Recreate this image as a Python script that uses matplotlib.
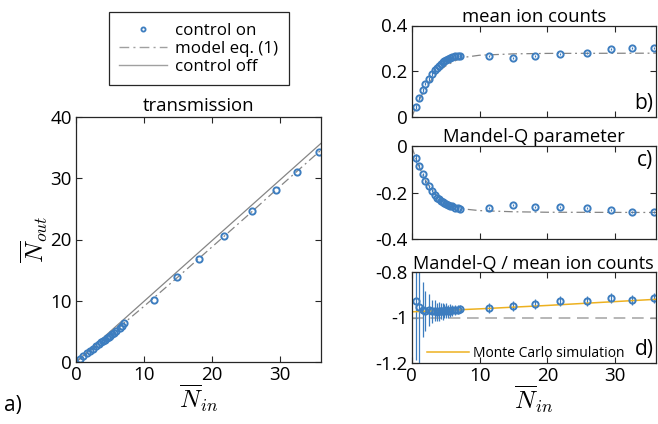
import numpy as np
import matplotlib
matplotlib.use("Agg")
import matplotlib.pyplot as plt
from matplotlib.lines import Line2D

plt.rcParams['font.family'] = ['Open Sans', 'DejaVu Sans']
plt.rcParams['mathtext.fontset'] = 'cm'
plt.rcParams['axes.unicode_minus'] = False

# input photon numbers (same for all panels)
n_in = [0.63, 1.08, 1.6, 2.0, 2.5, 3.0, 3.44, 3.73, 4.0, 4.3, 4.57, 4.8, 5.06, 5.3,
        5.6, 5.94, 6.4, 6.8, 7.1, 11.4, 14.9, 18.1, 21.8, 25.9, 29.4, 32.5, 35.7]

# a) transmission
n_out = [0.55, 0.95, 1.4, 1.75, 2.15, 2.6, 2.95, 3.2, 3.4, 3.65, 3.9, 4.1, 4.3, 4.5,
         4.8, 5.1, 5.5, 5.85, 6.3, 10.2, 13.9, 16.8, 20.5, 24.7, 28.1, 31.1, 34.3]
model_a_x = [0, 2, 4, 7, 10, 15, 20, 25, 30, 36]
model_a_y = [0, 1.75, 3.55, 6.3, 9.1, 13.9, 18.8, 23.7, 28.7, 34.6]
off_x = [0, 36]
off_y = [0, 35.7]

# b) mean ion counts
ions = [0.045, 0.082, 0.117, 0.146, 0.167, 0.188, 0.205, 0.216, 0.224, 0.231, 0.239,
        0.245, 0.249, 0.253, 0.258, 0.261, 0.265, 0.268, 0.267,
        0.267, 0.259, 0.267, 0.275, 0.281, 0.296, 0.303, 0.303]
ions_err = [0.008] * 19 + [0.004] * 8
model_x = [0, 0.5, 1, 1.5, 2, 2.5, 3, 3.5, 4, 4.5, 5, 6, 7, 8, 10, 15, 20, 36]
model_b = [0, 0.035, 0.068, 0.097, 0.123, 0.146, 0.166, 0.184, 0.199, 0.212, 0.223,
           0.24, 0.254, 0.262, 0.27, 0.276, 0.278, 0.279]

# c) Mandel-Q
mandel = [-0.053, -0.086, -0.122, -0.152, -0.172, -0.192, -0.208, -0.221, -0.228, -0.234,
          -0.24, -0.244, -0.248, -0.252, -0.257, -0.259, -0.264, -0.265, -0.27,
          -0.267, -0.253, -0.26, -0.26, -0.267, -0.274, -0.282, -0.282]
mandel_err = [0.018, 0.01] + [0.006] * 17 + [0.004] * 8
model_c = [0, -0.045, -0.082, -0.115, -0.145, -0.168, -0.188, -0.205, -0.22, -0.232,
           -0.242, -0.256, -0.265, -0.271, -0.277, -0.282, -0.284, -0.285]

# d) Mandel-Q / mean ion counts
ratio = [-0.928, -0.955, -0.965, -0.97, -0.968, -0.972, -0.97, -0.975, -0.972, -0.97,
         -0.973, -0.97, -0.968, -0.972, -0.97, -0.968, -0.966, -0.965, -0.963,
         -0.96, -0.95, -0.94, -0.927, -0.927, -0.913, -0.923, -0.913]
ratio_err = [0.26, 0.3, 0.12, 0.088, 0.07, 0.05, 0.045, 0.04, 0.042, 0.035, 0.036, 0.03,
             0.032, 0.028, 0.028, 0.025, 0.022, 0.02, 0.018,
             0.022, 0.022, 0.022, 0.022, 0.022, 0.022, 0.022, 0.022]
mc_x = [0, 10, 20, 30, 36]
mc_y = [-0.975, -0.962, -0.947, -0.93, -0.92]
ref_x = [0, 36]
ref_y = [-1, -1]

blue = '#3D7DBF'
gray = '#858585'
orange = '#EDB120'
dashdot = (0, (7, 3, 1.5, 3))

W, H = 658, 424
fig = plt.figure(figsize=(W / 100, H / 100), dpi=100)

def box(l, t, r, b):
    return [l / W, 1 - b / H, (r - l) / W, (b - t) / H]

def style(ax):
    ax.tick_params(direction='in', top=True, right=True, length=4, width=0.8,
                   labelsize=13.5, color='#262626', pad=3)
    for s in ax.spines.values():
        s.set_linewidth(0.9)
        s.set_color('#262626')

mk = dict(marker='o', ms=4.5, mfc='none', mec=blue, mew=1.4, ls='none', color=blue)
tfs = 13.3

# ---- a)
ax = fig.add_axes(box(76, 117, 321, 362))
ax.plot(off_x, off_y, color=gray, lw=0.9)
ax.plot(model_a_x, model_a_y, color=gray, lw=0.9, ls=dashdot)
ax.plot(n_in, n_out, **mk)
ax.set_xlim(0, 36)
ax.set_ylim(0, 40)
ax.set_xticks([0, 10, 20, 30])
ax.set_yticks([0, 10, 20, 30, 40])
ax.set_title('transmission', fontsize=tfs, pad=4)
ax.set_xlabel(r'$\overline{N}_{in}$', fontsize=18, labelpad=-1)
ax.set_ylabel(r'$\overline{N}_{out}$', fontsize=18, labelpad=0)
style(ax)
fig.text(4 / W, 1 - 406 / H, 'a)', fontsize=15, va='center')

# ---- b)
axb = fig.add_axes(box(411.7, 25.5, 656, 117))
axb.plot(model_x, model_b, color=gray, lw=0.9, ls=dashdot)
axb.errorbar(n_in, ions, yerr=ions_err, capsize=0, elinewidth=0.9, **mk)
axb.set_xlim(0, 36)
axb.set_ylim(0, 0.4)
axb.set_xticks([0, 10, 20, 30])
axb.set_xticklabels([])
axb.set_yticks([0, 0.2, 0.4])
axb.set_yticklabels(['0', '0.2', '0.4'])
axb.set_title('mean ion counts', fontsize=tfs, pad=2)
axb.text(0.99, 0.03, 'b)', transform=axb.transAxes, fontsize=15, ha='right', va='bottom')
style(axb)

# ---- c)
axc = fig.add_axes(box(411.7, 146, 656, 239.3))
axc.plot(model_x, model_c, color=gray, lw=0.9, ls=dashdot)
axc.errorbar(n_in, mandel, yerr=mandel_err, capsize=0, elinewidth=0.9, **mk)
axc.set_xlim(0, 36)
axc.set_ylim(-0.4, 0)
axc.set_xticks([0, 10, 20, 30])
axc.set_xticklabels([])
axc.set_yticks([-0.4, -0.2, 0])
axc.set_yticklabels(['-0.4', '-0.2', '0'])
axc.set_title('Mandel-Q parameter', fontsize=tfs, pad=2)
axc.text(0.99, 0.96, 'c)', transform=axc.transAxes, fontsize=15, ha='right', va='top')
style(axc)

# ---- d)
axd = fig.add_axes(box(411.7, 272, 656, 363))
axd.plot(ref_x, ref_y, color='#aaaaaa', lw=1.2, dashes=(7, 4))
axd.errorbar(n_in, ratio, yerr=ratio_err, capsize=0, elinewidth=0.9, **mk)
mc_line, = axd.plot(mc_x, mc_y, color=orange, lw=1.1)
axd.set_xlim(0, 36)
axd.set_ylim(-1.2, -0.8)
axd.set_xticks([0, 10, 20, 30])
axd.set_yticks([-1.2, -1, -0.8])
axd.set_yticklabels(['-1.2', '-1', '-0.8'])
axd.set_title('Mandel-Q / mean ion counts', fontsize=13.1, pad=2)
axd.set_xlabel(r'$\overline{N}_{in}$', fontsize=18, labelpad=-1)
axd.legend([mc_line], ['Monte Carlo simulation'], loc='lower left', frameon=False,
           fontsize=10, handlelength=3.0, borderaxespad=0.0, handletextpad=0.3,
           bbox_to_anchor=(0.04, -0.04))
axd.text(0.99, 0.03, 'd)', transform=axd.transAxes, fontsize=15, ha='right', va='bottom')
style(axd)

# ---- shared legend
handles = [Line2D([], [], marker='o', ms=3, mfc='none', mec=blue, mew=1.3, ls='none'),
           Line2D([], [], color='#a0a0a0', lw=1.0, ls=dashdot),
           Line2D([], [], color='#a0a0a0', lw=1.0)]
leg = fig.legend(handles, ['control on', 'model eq. (1)', 'control off'],
                 loc='upper center', bbox_to_anchor=(199 / W, 1 - 12.5 / H),
                 fontsize=12.2, fancybox=False, edgecolor='#262626', framealpha=1,
                 handlelength=2.8, labelspacing=0.12, borderpad=0.6, handletextpad=0.5,
                 borderaxespad=0)
leg.get_frame().set_linewidth(0.9)

fig.savefig('out.png', dpi=100)
